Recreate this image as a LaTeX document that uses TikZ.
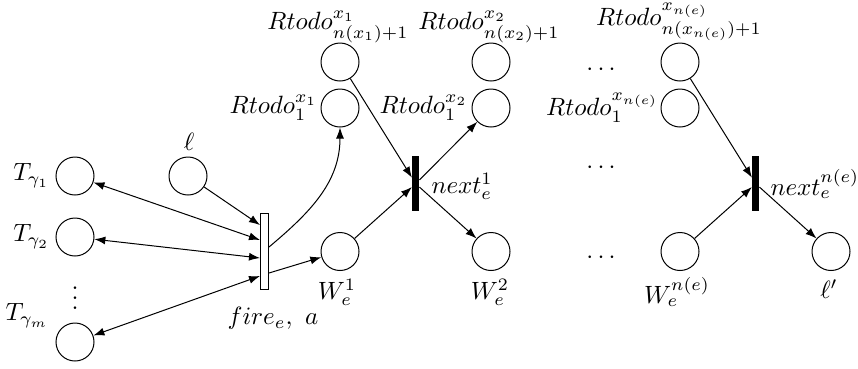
\documentclass[tikz,border=0pt]{standalone}
\usetikzlibrary{arrows.meta,calc}
\begin{document}
\begin{tikzpicture}[x=0.4pt,y=-0.4pt,
  place/.style={circle,draw,minimum size=15.2pt,inner sep=0pt},
  firebar/.style={draw,fill=white,minimum width=3.2pt,minimum height=30.4pt,inner sep=0pt},
  nextbar/.style={draw,fill=black,minimum width=2.6pt,minimum height=21.6pt,inner sep=0pt},
  lbl/.style={inner sep=0pt},
  arr/.style={-{Latex[length=4.4pt,width=3.2pt]}},
  darr/.style={{Latex[length=4.4pt,width=3.2pt]}-{Latex[length=4.4pt,width=3.2pt]}}]
\useasboundingbox (0,0) rectangle (858,368);
% places
\node[place] (T1) at (75,176) {};
\node[place] (T2) at (75,237) {};
\node[place] (Tm) at (75,342) {};
\node[place] (l) at (188,176) {};
\node[place] (R1b) at (340,62) {};
\node[place] (R1a) at (340,108) {};
\node[place] (R2b) at (491,62) {};
\node[place] (R2a) at (491,108) {};
\node[place] (R3b) at (680,62) {};
\node[place] (R3a) at (680,108) {};
\node[place] (W1) at (340,251.5) {};
\node[place] (W2) at (491,251.5) {};
\node[place] (Wn) at (680,251.5) {};
\node[place] (lp) at (831,251.5) {};
% transitions
\node[firebar] (fire) at (264.5,251) {};
\node[nextbar] (next1) at (415.7,183.7) {};
\node[nextbar] (nextn) at (755.7,183.7) {};
% labels
\node[lbl,anchor=east] (LT1) at (50,176) {$T_{\gamma_1}$};
\node[lbl,anchor=east] (LT2) at (50,237) {$T_{\gamma_2}$};
\node[lbl,anchor=east] (LTm) at (49,316) {$T_{\gamma_m}$};
\node[lbl,anchor=base] (vd) at (75,309) {$\vdots$};
\node[lbl] (Ll) at (189,142) {$\ell$};
\node[lbl] (Lfire) at (273,318) {$fire_e,\ a$};
\node[lbl] (LR1b) at (338,27) {$Rtodo^{x_1}_{n(x_1)+1}$};
\node[lbl,anchor=east] (LR1a) at (318,108) {$Rtodo_1^{x_1}$};
\node[lbl] (LR2b) at (489,27) {$Rtodo^{x_2}_{n(x_2)+1}$};
\node[lbl,anchor=east] (LR2a) at (468,108) {$Rtodo_1^{x_2}$};
\node[lbl] (LR3b) at (679,22) {$Rtodo^{x_{n(e)}}_{n(x_{n(e)})+1}$};
\node[lbl,anchor=east] (LR3a) at (659,108) {$Rtodo_1^{x_{n(e)}}$};
\node[lbl] (D1) at (601,70) {$\cdots$};
\node[lbl] (D2) at (601,168) {$\cdots$};
\node[lbl] (D3) at (601,258) {$\cdots$};
\node[lbl,anchor=west] (Lnext1) at (431,186) {$next_e^1$};
\node[lbl,anchor=west] (Lnextn) at (770,184) {$next_e^{n(e)}$};
\node[lbl] (LW1) at (337,292) {$W_e^1$};
\node[lbl] (LW2) at (490,292) {$W_e^2$};
\node[lbl] (LWn) at (677,292) {$W_e^{n(e)}$};
\node[lbl] (Llp) at (829,289) {$\ell'$};
% arcs
\draw[darr] (T1) -- ($(fire.west)+(0,-11)$);
\draw[darr] (T2) -- ($(fire.west)+(0,7)$);
\draw[darr] (Tm) -- ($(fire.west)+(0,25)$);
\draw[arr] (l) -- ($(fire.west)+(0,-26)$);
\draw[arr] ($(fire.east)+(0,-4)$) to[out=40,in=-90] (R1a.south);
\draw[arr] ($(fire.east)+(0,22)$) -- (W1);
\draw[arr] (R1b) -- (next1);
\draw[arr] (W1) -- (next1);
\draw[arr] (next1) -- (R2a);
\draw[arr] (next1) -- (W2);
\draw[arr] (R3b) -- (nextn);
\draw[arr] (Wn) -- (nextn);
\draw[arr] (nextn) -- (lp);
\end{tikzpicture}
\end{document}
